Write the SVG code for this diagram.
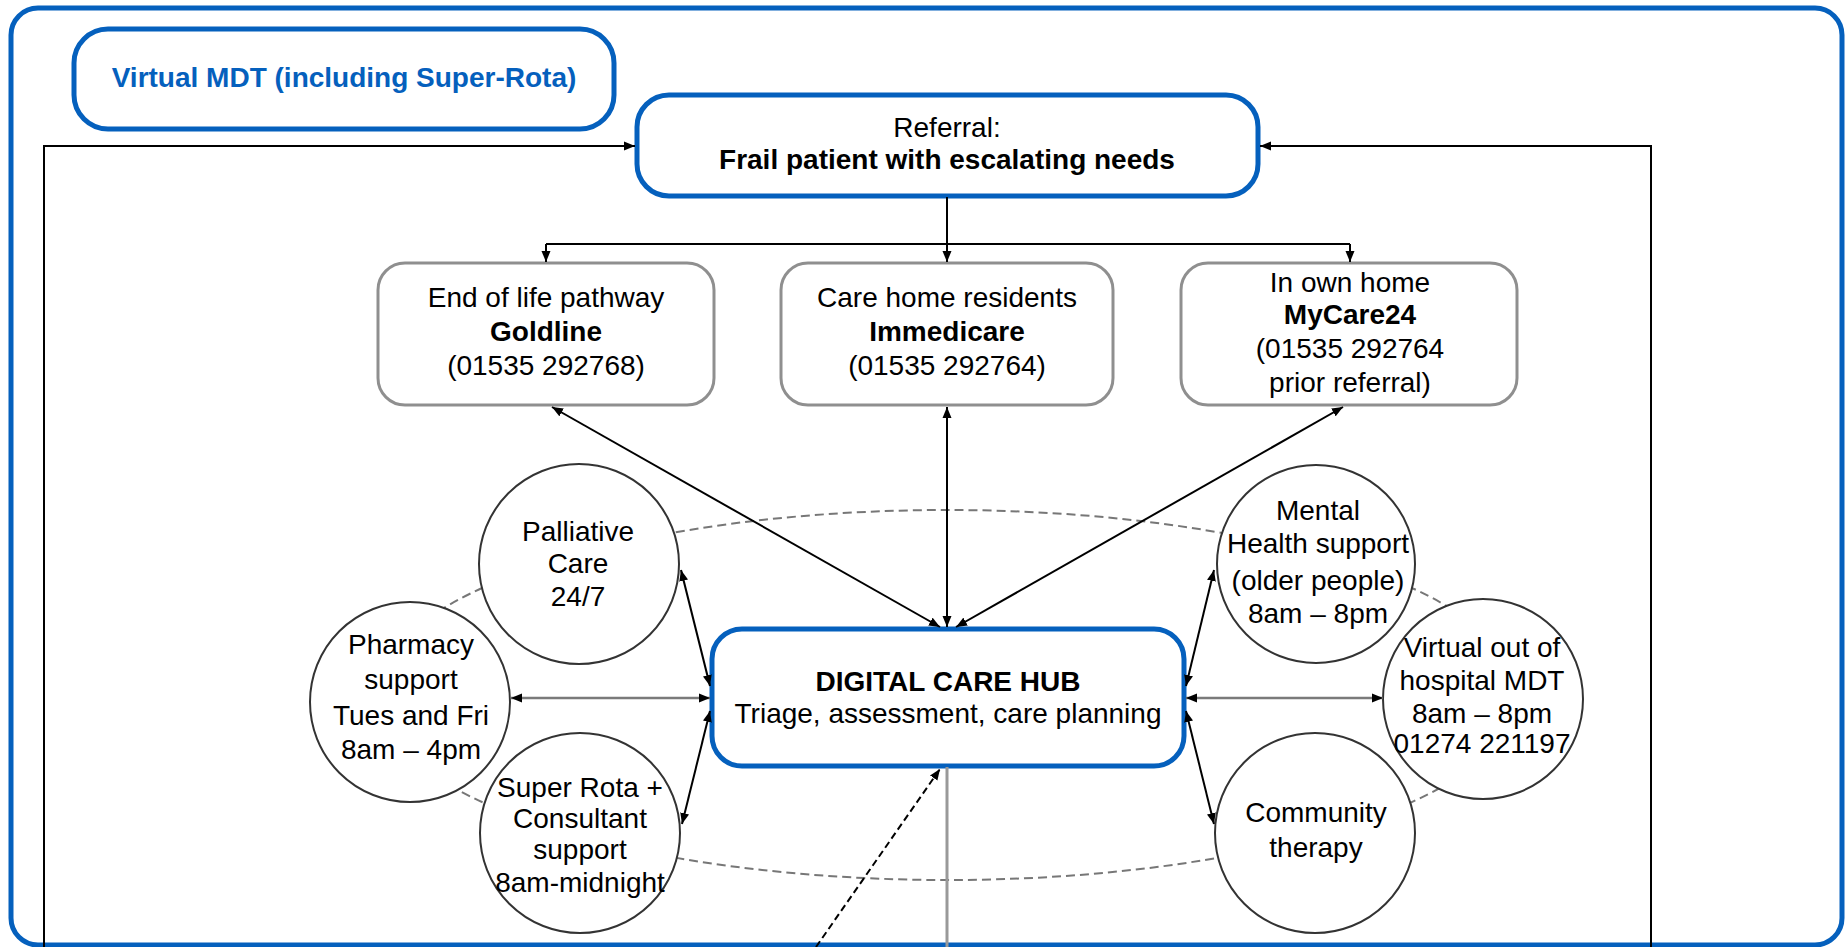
<svg xmlns="http://www.w3.org/2000/svg" width="1845" height="947" viewBox="0 0 1845 947">
<style>
text{font-family:"Liberation Sans",Arial,sans-serif;font-size:28px;fill:#000;text-anchor:middle}
.b{font-weight:bold}
.blue{fill:#0560BD;font-weight:bold}
.bluebox{fill:#fff;stroke:#0560BD;stroke-width:5}
.graybox{fill:#fff;stroke:#8f8f8f;stroke-width:3}
.circ{fill:#fff;stroke:#333;stroke-width:2}
.ln{fill:none;stroke:#000;stroke-width:2}
.gl{fill:none;stroke:#7a7a7a;stroke-width:2.5}
.dash{fill:none;stroke:#777;stroke-width:2;stroke-dasharray:9 5}
</style>
<defs>
<marker id="ah" markerUnits="userSpaceOnUse" markerWidth="12" markerHeight="10" refX="11" refY="5" orient="auto-start-reverse">
<path d="M0,0.5 L11,5 L0,9.5 z" fill="#000"/>
</marker>
</defs>
<rect width="1845" height="947" fill="#fff"/>
<rect x="11" y="8" width="1831" height="937" rx="27" fill="none" stroke="#0560BD" stroke-width="5"/>
<ellipse id="ring" class="dash" cx="947" cy="695" rx="570" ry="185"/>

<g id="virtual-mdt">
<rect class="bluebox" x="74" y="29" width="540" height="100" rx="34"/>
<text class="blue" x="344" y="87">Virtual MDT (including Super-Rota)</text>
</g>
<g id="referral">
<rect class="bluebox" x="637" y="95" width="621" height="101" rx="32"/>
<text x="947" y="137">Referral:</text>
<text class="b" x="947" y="169">Frail patient with escalating needs</text>
</g>
<g id="goldline">
<rect class="graybox" x="378" y="263" width="336" height="142" rx="27"/>
<text x="546" y="307">End of life pathway</text>
<text class="b" x="546" y="341">Goldline</text>
<text x="546" y="375">(01535 292768)</text>
</g>
<g id="immedicare">
<rect class="graybox" x="781" y="263" width="332" height="142" rx="27"/>
<text x="947" y="307">Care home residents</text>
<text class="b" x="947" y="341">Immedicare</text>
<text x="947" y="375">(01535 292764)</text>
</g>
<g id="mycare24">
<rect class="graybox" x="1181" y="263" width="336" height="142" rx="27"/>
<text x="1350" y="292">In own home</text>
<text class="b" x="1350" y="324">MyCare24</text>
<text x="1350" y="358">(01535 292764</text>
<text x="1350" y="392">prior referral)</text>
</g>
<g id="hub">
<rect class="bluebox" x="712" y="629" width="472" height="137" rx="30"/>
<text class="b" x="948" y="691">DIGITAL CARE HUB</text>
<text x="948" y="723">Triage, assessment, care planning</text>
</g>
<g id="palliative">
<circle class="circ" cx="579" cy="564" r="100"/>
<text x="578" y="541">Palliative</text>
<text x="578" y="573">Care</text>
<text x="578" y="606">24/7</text>
</g>
<g id="pharmacy">
<circle class="circ" cx="410" cy="702" r="100"/>
<text x="411" y="654">Pharmacy</text>
<text x="411" y="689">support</text>
<text x="411" y="725">Tues and Fri</text>
<text x="411" y="759">8am – 4pm</text>
</g>
<g id="super-rota">
<circle class="circ" cx="580" cy="833" r="100"/>
<text x="580" y="797">Super Rota +</text>
<text x="580" y="828">Consultant</text>
<text x="580" y="859">support</text>
<text x="580" y="892">8am-midnight</text>
</g>
<g id="mental-health">
<circle class="circ" cx="1316" cy="564" r="99"/>
<text x="1318" y="520">Mental</text>
<text x="1318" y="553">Health support</text>
<text x="1318" y="590">(older people)</text>
<text x="1318" y="623">8am – 8pm</text>
</g>
<g id="virtual-ooh">
<circle class="circ" cx="1483" cy="699" r="100"/>
<text x="1482" y="657">Virtual out of</text>
<text x="1482" y="690">hospital MDT</text>
<text x="1482" y="723">8am – 8pm</text>
<text x="1482" y="753">01274 221197</text>
</g>
<g id="community">
<circle class="circ" cx="1315" cy="833" r="100"/>
<text x="1316" y="822">Community</text>
<text x="1316" y="857">therapy</text>
</g>

<g id="connectors">
<path class="ln" d="M44,947 V146 H635" marker-end="url(#ah)"/>
<path class="ln" d="M1651,947 V146 H1260" marker-end="url(#ah)"/>
<path class="ln" d="M947,197 V244"/>
<path class="ln" d="M546,244 H1350"/>
<path class="ln" d="M546,244 V262" marker-end="url(#ah)"/>
<path class="ln" d="M947,244 V262" marker-end="url(#ah)"/>
<path class="ln" d="M1350,244 V262" marker-end="url(#ah)"/>
<path class="ln" d="M552,407 L940,627" marker-start="url(#ah)" marker-end="url(#ah)"/>
<path class="ln" d="M947,407 V627" marker-start="url(#ah)" marker-end="url(#ah)"/>
<path class="ln" d="M1343,407 L956,627" marker-start="url(#ah)" marker-end="url(#ah)"/>
<path class="ln" d="M681,570 L710,686" marker-start="url(#ah)" marker-end="url(#ah)"/>
<path class="gl" d="M511,698 H710" marker-start="url(#ah)" marker-end="url(#ah)"/>
<path class="ln" d="M710,711 L682,824" marker-start="url(#ah)" marker-end="url(#ah)"/>
<path class="ln" d="M1214,570 L1186,686" marker-start="url(#ah)" marker-end="url(#ah)"/>
<path class="gl" d="M1186,698 H1383" marker-start="url(#ah)" marker-end="url(#ah)"/>
<path class="ln" d="M1186,711 L1214,824" marker-start="url(#ah)" marker-end="url(#ah)"/>
<path d="M947,767 V947" fill="none" stroke="#999" stroke-width="3"/>
<path class="ln" d="M816,947 L940,769" stroke-dasharray="7 4" marker-end="url(#ah)"/>
</g>
</svg>
